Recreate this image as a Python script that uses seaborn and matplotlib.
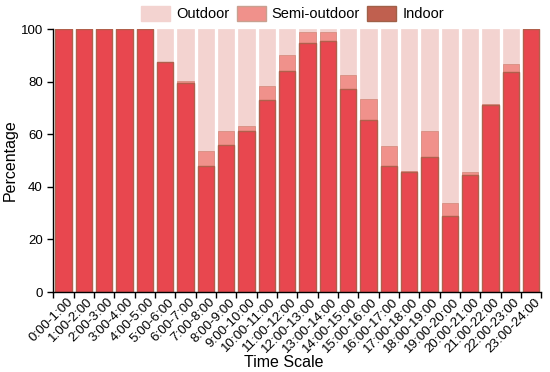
import matplotlib
matplotlib.use("Agg")
import matplotlib.pyplot as plt
import matplotlib.transforms as mtransforms
import seaborn as sns
import pandas as pd
import numpy as np
from matplotlib.patches import Patch

# values (percent of time)
time_slots = ["0:00-1:00", "1:00-2:00", "2:00-3:00", "3:00-4:00", "4:00-5:00",
              "5:00-6:00", "6:00-7:00", "7:00-8:00", "8:00-9:00", "9:00-10:00",
              "10:00-11:00", "11:00-12:00", "12:00-13:00", "13:00-14:00",
              "14:00-15:00", "15:00-16:00", "16:00-17:00", "17:00-18:00",
              "18:00-19:00", "19:00-20:00", "20:00-21:00", "21:00-22:00",
              "22:00-23:00", "23:00-24:00"]
indoor = [100, 100, 100, 100, 100, 87.3, 79.6, 48.0, 55.9, 61.2, 73.0, 84.0,
          94.6, 95.6, 77.1, 65.4, 48.0, 45.7, 51.4, 28.9, 44.6, 71.0, 83.8, 100]
semi_outdoor = [0, 0, 0, 0, 0, 0, 0.8, 5.6, 5.3, 1.9, 5.3, 6.1,
                4.1, 3.1, 5.4, 7.9, 7.6, 0.5, 9.8, 5.1, 1.2, 0.3, 2.9, 0]
outdoor = [100 - a - b for a, b in zip(indoor, semi_outdoor)]

c_out = "#f3d3d0"
c_semi = "#f0918b"
c_in = "#e8474f"
edge_in = "#b0604c"

df = pd.DataFrame({"slot": time_slots, "indoor": indoor,
                   "semi": semi_outdoor, "outdoor": outdoor})
df["indoor_semi"] = df["indoor"] + df["semi"]
df["total"] = df["indoor_semi"] + df["outdoor"]

sns.set_style("ticks")
plt.rcParams["font.family"] = ["Liberation Sans", "DejaVu Sans"]
plt.rcParams["text.color"] = "black"
plt.rcParams["axes.labelcolor"] = "black"
plt.rcParams["xtick.color"] = "black"
plt.rcParams["ytick.color"] = "black"

fig, ax = plt.subplots(figsize=(5.5, 3.72), dpi=100)
fig.subplots_adjust(left=0.097, right=0.984, top=0.922, bottom=0.215)

# stacked bars: draw cumulative totals back to front
sns.barplot(data=df, x="slot", y="total", color=c_out, width=0.8,
            saturation=1, edgecolor=c_out, linewidth=0.5, ax=ax)
sns.barplot(data=df, x="slot", y="indoor_semi", color=c_semi, width=0.8,
            saturation=1, edgecolor="#d08878", linewidth=0.5, ax=ax)
sns.barplot(data=df, x="slot", y="indoor", color=c_in, width=0.8,
            saturation=1, edgecolor=edge_in, linewidth=1.0, ax=ax)

ax.set_xlim(-0.5, len(time_slots) - 0.5)
ax.set_ylim(0, 100)
ax.set_yticks([0, 20, 40, 60, 80, 100])
ax.tick_params(axis="y", labelsize=9.5, length=4, width=1, direction="out")
ax.set_xticks(np.arange(len(time_slots)))
ax.set_xticklabels(time_slots, rotation=45, ha="right",
                   rotation_mode="anchor", fontsize=9.6)
ax.tick_params(axis="x", which="major", length=0, pad=3)
shift = mtransforms.ScaledTranslation(3 / 100, 0, fig.dpi_scale_trans)
for lab in ax.get_xticklabels():
    lab.set_transform(lab.get_transform() + shift)
ax.set_xticks(np.arange(-0.5, len(time_slots), 1.0), minor=True)
ax.tick_params(axis="x", which="minor", length=4, width=1, direction="out")

ax.set_xlabel("Time Scale", fontsize=11.5, labelpad=0)
ax.xaxis.label.set_x(0.473)
ax.set_ylabel("Percentage", fontsize=11.5, labelpad=2)

sns.despine(ax=ax)
for side in ["left", "bottom"]:
    ax.spines[side].set_linewidth(1.0)
    ax.spines[side].set_color("black")

handles = [Patch(facecolor=c_out, edgecolor=c_out, label="Outdoor"),
           Patch(facecolor=c_semi, edgecolor="#c8a090", label="Semi-outdoor"),
           Patch(facecolor="#c0604f", edgecolor="#a06048", label="Indoor")]
fig.legend(handles=handles, loc="center", bbox_to_anchor=(0.532, 0.963),
           ncol=3, frameon=False, fontsize=10.5, handlelength=2.0,
           handleheight=1.2, handletextpad=0.4, columnspacing=0.5)

fig.savefig("out.png", dpi=100)
